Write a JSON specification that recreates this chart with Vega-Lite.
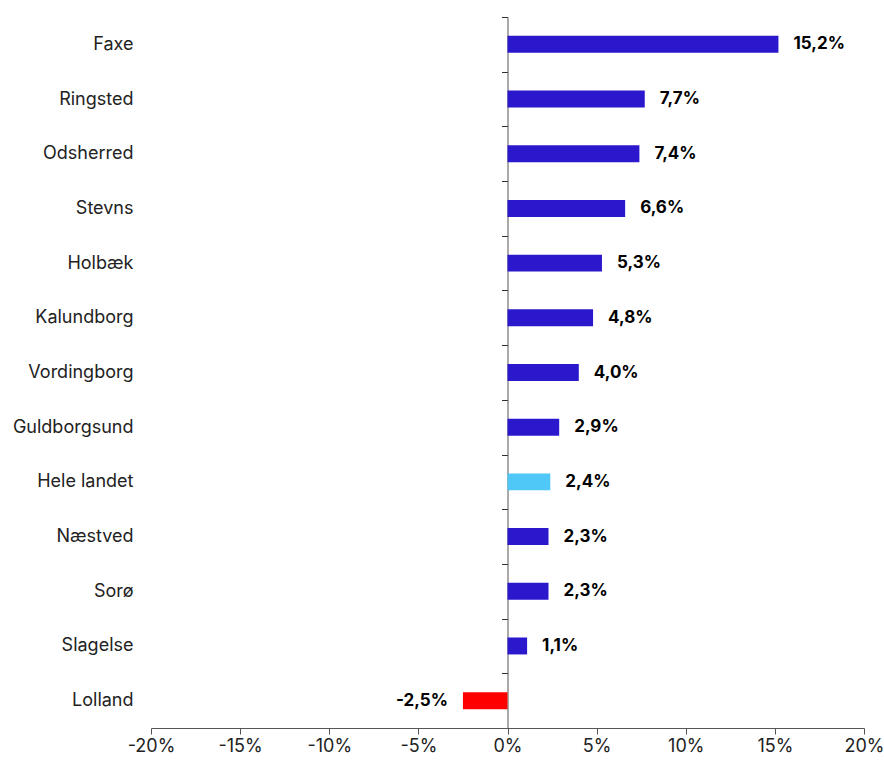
{
  "$schema": "https://vega.github.io/schema/vega-lite/v6.json",
  "width": 713,
  "height": 711,
  "autosize": {"type": "none"},
  "padding": {"left": 151, "top": 17, "right": 20, "bottom": 34},
  "background": "white",
  "data": {
    "values": [
      {"kommune": "Faxe", "v": 15.2, "g": "k"},
      {"kommune": "Ringsted", "v": 7.7, "g": "k"},
      {"kommune": "Odsherred", "v": 7.4, "g": "k"},
      {"kommune": "Stevns", "v": 6.6, "g": "k"},
      {"kommune": "Holbæk", "v": 5.3, "g": "k"},
      {"kommune": "Kalundborg", "v": 4.8, "g": "k"},
      {"kommune": "Vordingborg", "v": 4.0, "g": "k"},
      {"kommune": "Guldborgsund", "v": 2.9, "g": "k"},
      {"kommune": "Hele landet", "v": 2.4, "g": "l"},
      {"kommune": "Næstved", "v": 2.3, "g": "k"},
      {"kommune": "Sorø", "v": 2.3, "g": "k"},
      {"kommune": "Slagelse", "v": 1.1, "g": "k"},
      {"kommune": "Lolland", "v": -2.5, "g": "n"}
    ]
  },
  "encoding": {
    "y": {
      "field": "kommune",
      "type": "nominal",
      "sort": null,
      "scale": {"paddingInner": 0.69, "paddingOuter": 0.345},
      "axis": {
        "title": null,
        "offset": -356.5,
        "domainColor": "#555",
        "tickColor": "#333",
        "tickSize": 6,
        "tickBand": "center",
        "tickOffset": -27.35,
        "labelOffset": 27.35,
        "labelPadding": 368.5,
        "labelFont": "Inter",
        "labelFontSize": 18,
        "labelColor": "#222",
        "labelLimit": 300
      }
    },
    "x": {
      "field": "v",
      "type": "quantitative",
      "scale": {"domain": [-20, 20], "nice": false},
      "axis": {
        "title": null,
        "values": [-20, -15, -10, -5, 0, 5, 10, 15, 20],
        "labelExpr": "datum.value + '%'",
        "labelFlush": false,
        "grid": false,
        "domainColor": "#555",
        "tickColor": "#555",
        "tickSize": 6,
        "labelPadding": 3,
        "labelFont": "Inter",
        "labelFontSize": 18,
        "labelColor": "#222"
      }
    }
  },
  "layer": [
    {
      "mark": {"type": "bar"},
      "encoding": {
        "color": {
          "field": "g",
          "type": "nominal",
          "scale": {"domain": ["k", "l", "n"], "range": ["#2b18cc", "#4fc8f8", "#ff0000"]},
          "legend": null
        }
      }
    },
    {
      "mark": {
        "type": "text",
        "font": "Inter",
        "fontSize": 17,
        "fontWeight": "bold",
        "color": "#000",
        "baseline": "middle",
        "align": {"expr": "datum.v < 0 ? 'right' : 'left'"},
        "dx": {"expr": "datum.v < 0 ? -15 : 15"},
        "text": {"expr": "replace(replace(format(datum.v, '.1f'), '.', ','), '\u2212', '-') + '%'"}
      }
    }
  ],
  "config": {"view": {"stroke": null}}
}
